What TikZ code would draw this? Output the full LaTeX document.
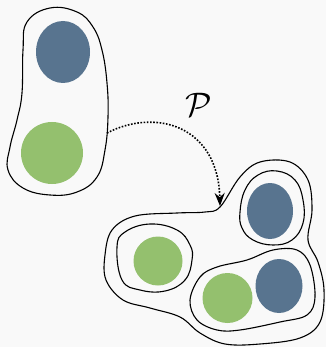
\documentclass[tikz,border=0pt]{standalone}
\usetikzlibrary{arrows.meta}
\definecolor{bg}{HTML}{F9F9F9}
\definecolor{myblue}{HTML}{58748F}
\definecolor{mygreen}{HTML}{94C06E}
\tikzset{
  outline/.style={draw=black, line width=1.1pt},
  bluedot/.style={fill=myblue},
  greendot/.style={fill=mygreen},
}
\begin{document}
\begin{tikzpicture}[x=1pt,y=-1pt]
\fill[bg] (0,0) rectangle (326,347);
\useasboundingbox (0,0) rectangle (326,347);
% left blob
\draw[outline] plot[smooth cycle, tension=0.7] coordinates{
 (50,8) (77,12) (93,27) (102,50) (107,83) (108,117) (105,150) (97,177) (77,192)
 (50,195) (23,188) (8,170) (10,147) (17,120) (22,93) (23,50) (27,22)};
\fill[bluedot] (63,52) ellipse[x radius=27, y radius=31];
\fill[greendot] (52,153) circle[radius=31];
% right big blob
\draw[outline] plot[smooth cycle, tension=0.6] coordinates{
 (220,207) (240,177) (260,162) (290,162) (308,180) (312,210) (308,240)
 (318,262) (324,290) (320,322) (300,338) (260,344) (225,344) (200,333) (180,317)
 (150,308) (123,300) (106,280) (105,255) (112,230) (135,216) (177,213) (205,212)};
% top-right inner
\draw[outline] plot[smooth cycle, tension=0.7] coordinates{
 (240,212) (245,190) (258,175) (277,171) (295,180) (303,200) (303,223) (292,240)
 (273,245) (253,240) (242,228)};
\fill[bluedot] (270,211) ellipse[x radius=23, y radius=28];
% left inner
\draw[outline] plot[smooth cycle, tension=0.7] coordinates{
 (117,247) (125,232) (150,224) (177,230) (190,245) (192,260) (185,280) (165,291)
 (140,290) (122,280)};
\fill[greendot] (158,261) circle[radius=24.5];
% bottom-right inner
\draw[outline] plot[smooth cycle, tension=0.6] coordinates{
 (190,300) (200,277) (217,267) (247,260) (273,250) (297,250) (310,265) (315,297)
 (307,315) (280,322) (240,330) (217,330) (197,320)};
\fill[greendot] (227.5,298) circle[radius=25];
\fill[bluedot] (279,286) ellipse[x radius=23.5, y radius=27];
% arrow
\coordinate (s) at (107,133);
\coordinate (t) at (220,206);
\draw[line width=1.6pt, dash pattern=on 1.6pt off 1.6pt, -{Stealth[length=13pt,width=10pt]}] (s) .. controls (155,108) and (218,125) .. (t);
\node (P) at (199,105) {\scalebox{3.4}{$\mathcal{P}$}};
\end{tikzpicture}
\end{document}
